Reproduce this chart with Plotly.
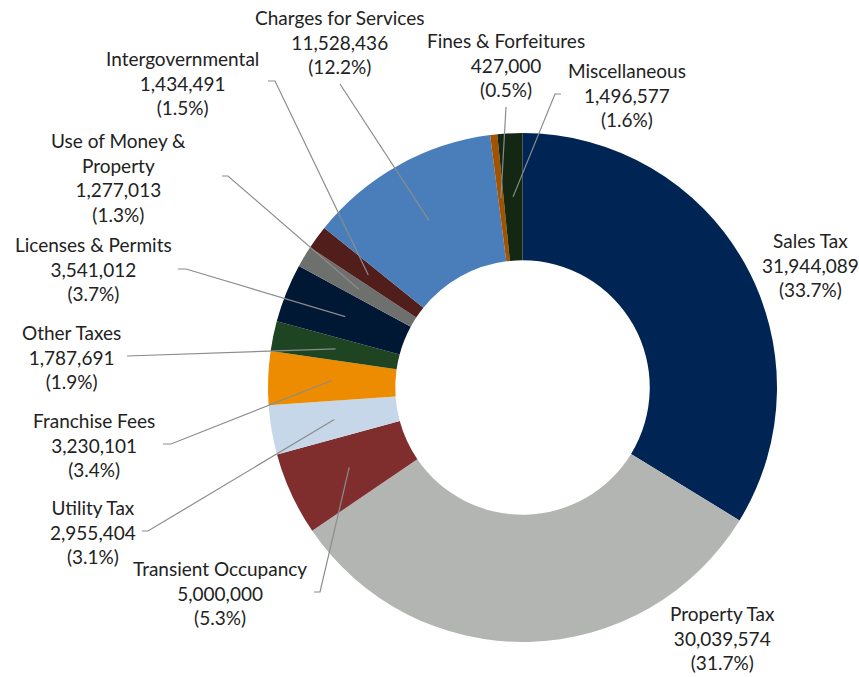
import math
import plotly.graph_objects as go

# ---- data ----
categories = ["Sales Tax", "Property Tax", "Transient Occupancy", "Utility Tax",
              "Franchise Fees", "Other Taxes", "Licenses & Permits",
              "Use of Money & Property", "Intergovernmental",
              "Charges for Services", "Fines & Forfeitures", "Miscellaneous"]
amounts = [31944089, 30039574, 5000000, 2955404, 3230101, 1787691, 3541012,
           1277013, 1434491, 11528436, 427000, 1496577]
colors = ["#002554", "#B3B5B2", "#7F2E2D", "#C5D7E9", "#ED8C00", "#1F4422",
          "#001833", "#6E706D", "#521E1C", "#4A7EBB", "#A35300", "#132713"]

# ---- layout ----
W, H = 859, 677
CX, CY, R = 522.5, 387.5, 254.5
HOLE = 0.5
display_names = {"Use of Money & Property": "Use of Money &<br>Property"}
# label centre (px) and leader start/elbow (px)
label_pos = {
    "Sales Tax": (810, 265),
    "Property Tax": (722, 638),
    "Transient Occupancy": (220, 593),
    "Utility Tax": (93, 532),
    "Franchise Fees": (94, 445),
    "Other Taxes": (71, 357),
    "Licenses & Permits": (93, 269),
    "Use of Money & Property": (119, 178),
    "Intergovernmental": (182, 83),
    "Charges for Services": (340, 42),
    "Fines & Forfeitures": (506, 65),
    "Miscellaneous": (627, 95),
}
leaders = {
    "Transient Occupancy": [(314, 592), (320, 592)],
    "Utility Tax": [(142, 531), (148, 531)],
    "Franchise Fees": [(163, 444), (171, 444)],
    "Other Taxes": [(127, 356)],
    "Licenses & Permits": [(178, 269), (186, 269)],
    "Use of Money & Property": [(222, 176), (228, 176)],
    "Intergovernmental": [(268, 81), (275, 81)],
    "Charges for Services": [(340, 84)],
    "Fines & Forfeitures": [(506, 107)],
    "Miscellaneous": [(561, 94), (555, 94)],
}

def px2paper(x, y):
    return x / W, 1 - y / H

fig = go.Figure(go.Pie(
    labels=categories, values=amounts, hole=HOLE, sort=False,
    direction="clockwise", rotation=0,
    marker=dict(colors=colors, line=dict(width=0)),
    textinfo="none", showlegend=False,
    domain=dict(x=[(CX - R) / W, (CX + R) / W], y=[1 - (CY + R) / H, 1 - (CY - R) / H]),
))

total = sum(amounts)
cum = 0.0
annotations = []
shapes = []
rmid = R * (1 + HOLE) / 2
for name, v in zip(categories, amounts):
    frac = v / total
    mid = (cum + frac / 2) * 2 * math.pi
    cum += frac
    ex, ey = CX + rmid * math.sin(mid), CY - rmid * math.cos(mid)
    text = f"{display_names.get(name, name)}<br>{v:,}<br>({frac * 100:.1f}%)"
    lx, ly = label_pos[name]
    px, py = px2paper(lx, ly)
    annotations.append(dict(x=px, y=py, xref="paper", yref="paper", text=text,
                            showarrow=False, xanchor="center", yanchor="middle",
                            align="center",
                            font=dict(family="Lato", size=19, color="#222222")))
    if name in leaders:
        pts = leaders[name] + [(ex, ey)]
        path = "M " + " L ".join(f"{a / W:.5f},{1 - b / H:.5f}" for a, b in pts)
        shapes.append(dict(type="path", xref="paper", yref="paper", path=path,
                           line=dict(color="#8C8C8C", width=1.2)))

fig.update_layout(width=W, height=H, margin=dict(l=0, r=0, t=0, b=0),
                  paper_bgcolor="white", plot_bgcolor="white",
                  annotations=annotations, shapes=shapes)
fig.write_html("out.html", config={"displayModeBar": False},
               post_script="document.body.style.margin='0';document.body.style.overflow='hidden';")
